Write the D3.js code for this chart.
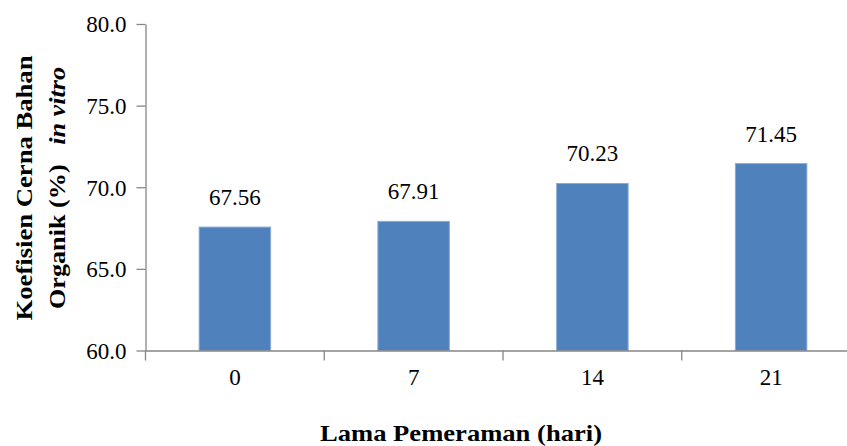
<!DOCTYPE html>
<html>
<head>
<meta charset="utf-8">
<script src="https://cdn.jsdelivr.net/npm/d3@7"></script>
<style>
  html, body { margin: 0; padding: 0; background: #fff; }
  svg { display: block; }
</style>
</head>
<body>
<svg id="chart" width="847" height="446"></svg>
<script>
// Lama pemeraman (hari) and koefisien cerna bahan organik in vitro (%)
const categories = ["0", "7", "14", "21"];
const values = [67.56, 67.91, 70.23, 71.45];
const yTicks = [60, 65, 70, 75, 80];

const svg = d3.select("#chart");
const plotLeft = 145.5, plotRight = 860.5, plotTop = 24, plotBottom = 350.5;
const axisColor = "#868686";
const serif = "'Liberation Serif'";

const x = d3.scaleBand().domain(categories).range([plotLeft, plotRight])
  .paddingInner(0.6).paddingOuter(0.3);
const y = d3.scaleLinear().domain([60, 80]).range([plotBottom, plotTop]);

// Y axis
const yAxis = svg.append("g").attr("transform", `translate(${plotLeft},0)`)
  .call(d3.axisLeft(y).tickValues(yTicks).tickFormat(d3.format(".1f"))
    .tickSize(9).tickSizeOuter(0).tickPadding(10))
  .attr("font-family", null).attr("font-size", null);
yAxis.select(".domain").attr("stroke", axisColor).attr("stroke-width", 1.3);
yAxis.selectAll(".tick line").attr("stroke", axisColor).attr("stroke-width", 1.3);
yAxis.selectAll(".tick text").style("font-family", serif).style("font-size", "23px")
  .attr("fill", "#000").attr("dy", "0.34em");

// Bars
svg.append("g").selectAll("rect").data(values).join("rect")
  .attr("x", (d, i) => x(categories[i]))
  .attr("y", d => y(d))
  .attr("width", x.bandwidth())
  .attr("height", d => y(60) - y(d))
  .attr("fill", "#4F81BD")
  .attr("stroke", "#8cabd4")
  .attr("stroke-width", 1);

// X axis (labels at band centres)
const xAxis = svg.append("g").attr("transform", `translate(0,${plotBottom})`)
  .call(d3.axisBottom(x).tickSize(0).tickSizeOuter(0).tickPadding(34))
  .attr("font-family", null).attr("font-size", null);
xAxis.select(".domain").attr("stroke", axisColor).attr("stroke-width", 1.3);
xAxis.selectAll(".tick text").style("font-family", serif).style("font-size", "23px")
  .attr("fill", "#000").attr("dy", 0);

// Category boundary ticks
const gap = (x.step() - x.bandwidth()) / 2;
const bounds = categories.map(c => x(c) - gap)
  .concat([x(categories[categories.length - 1]) + x.bandwidth() + gap]);
svg.append("g").selectAll("line").data(bounds).join("line")
  .attr("x1", d => d).attr("x2", d => d)
  .attr("y1", plotBottom).attr("y2", plotBottom + 10)
  .attr("stroke", axisColor).attr("stroke-width", 1.3);

// Value labels
svg.append("g").selectAll("text").data(values).join("text")
  .attr("x", (d, i) => x(categories[i]) + x.bandwidth() / 2)
  .attr("y", d => y(d) - 22)
  .attr("text-anchor", "middle")
  .style("font-family", serif).style("font-size", "23px")
  .text(d => d.toFixed(2));

// X axis title
svg.append("text")
  .attr("x", 461).attr("y", 441)
  .attr("text-anchor", "middle")
  .style("font-family", serif).style("font-size", "24px").style("font-weight", "bold")
  .attr("textLength", 282).attr("lengthAdjust", "spacingAndGlyphs")
  .text("Lama Pemeraman (hari)");

// Y axis title (two lines, rotated)
const yt = svg.append("g").attr("transform", "translate(0,188) rotate(-90)");
yt.append("text")
  .attr("x", 0).attr("y", 32)
  .attr("text-anchor", "middle")
  .style("font-family", serif).style("font-size", "24px").style("font-weight", "bold")
  .attr("textLength", 265).attr("lengthAdjust", "spacingAndGlyphs")
  .text("Koefisien Cerna Bahan");
const l2 = yt.append("text")
  .attr("x", 0).attr("y", 65)
  .attr("text-anchor", "middle")
  .style("font-family", serif).style("font-size", "24px").style("font-weight", "bold")
  .attr("textLength", 242).attr("lengthAdjust", "spacingAndGlyphs")
  .style("white-space", "pre");
l2.append("tspan").text("Organik (%)   ");
l2.append("tspan").style("font-style", "italic").text("in vitro");
</script>
</body>
</html>
